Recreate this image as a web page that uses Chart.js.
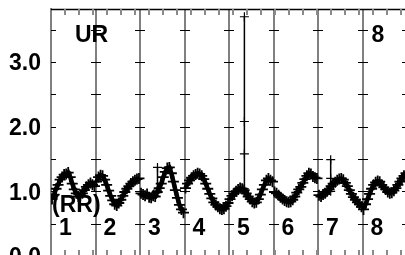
<!DOCTYPE html>
<html>
<head>
<meta charset="utf-8">
<script src="https://cdn.jsdelivr.net/npm/chart.js@4.4.1/dist/chart.umd.min.js"></script>
<style>
  html, body { margin: 0; padding: 0; background: #fff; overflow: hidden; }
  #wrap { position: relative; width: 405px; height: 255px; overflow: hidden; }
  canvas { display: block; }
</style>
</head>
<body>
<div id="wrap"><canvas id="ur-chart" width="420" height="265" style="width:420px;height:265px"></canvas></div>
<script>
// section labels and annotations
const sectionLabels = ['1', '2', '3', '4', '5', '6', '7', '8'];
const titleLabel = 'UR';
const cornerLabel = '8';
const unitLabel = '(RR)';
const yTickValues = [0, 1, 2, 3];
const yMarkValues = [0.5, 1, 1.5, 2, 2.5, 3, 3.5];
const minorStep = 0.315; // top/bottom minor tick spacing, in section units

// one wave per section
const sec1 = [0.88, 0.95, 1.04, 1.10, 1.18, 1.22, 1.26, 1.27, 1.29, 1.22, 1.12, 1.03, 0.97, 0.92, 0.94, 0.97, 1.02, 1.07, 1.10, 1.13, 1.10, 1.08];
const sec2 = [1.15, 1.22, 1.25, 1.24, 1.18, 1.10, 1.01, 0.93, 0.86, 0.80, 0.78, 0.82, 0.87, 0.93, 0.99, 1.04, 1.08, 1.12, 1.15, 1.17, 1.19, 1.20];
const sec3 = [0.97, 0.95, 0.93, 0.96, 0.91, 0.90, 0.93, 0.92, 0.99, 1.05, 1.12, 1.22, 1.30, 1.36, 1.37, 1.28, 1.15, 1.02, 0.90, 0.79, 0.72, 0.67];
const sec4 = [1.05, 1.12, 1.17, 1.21, 1.24, 1.26, 1.28, 1.27, 1.24, 1.19, 1.12, 1.04, 0.96, 0.89, 0.83, 0.79, 0.76, 0.73, 0.72, 0.73, 0.77, 0.82];
const sec5 = [0.88, 0.93, 0.97, 1.00, 1.03, 1.05, 1.04, 1.02, 0.97, 0.92, 0.88, 0.84, 0.82, 0.83, 0.88, 0.95, 1.03, 1.10, 1.17, 1.20, 1.17, 1.15];
const sec6 = [0.99, 0.97, 0.94, 0.91, 0.88, 0.86, 0.84, 0.83, 0.84, 0.87, 0.92, 0.98, 1.03, 1.07, 1.13, 1.19, 1.24, 1.28, 1.27, 1.23, 1.21, 1.20];
const sec7 = [0.94, 0.92, 0.95, 0.97, 1.00, 1.03, 1.08, 1.12, 1.14, 1.17, 1.19, 1.20, 1.18, 1.13, 1.08, 1.02, 0.96, 0.91, 0.87, 0.83, 0.80, 0.76];
const sec8 = [0.72, 0.80, 0.88, 0.96, 1.04, 1.10, 1.14, 1.16, 1.15, 1.10, 1.06, 1.03, 0.99, 0.97, 0.98, 1.01, 1.05, 1.10, 1.15, 1.20, 1.24, 1.28];
const sections = [sec1, sec2, sec3, sec4, sec5, sec6, sec7, sec8];

// artefact spikes
const spikeX = [2.393, 4.346, 6.285];
const spikeY = [
  [0.98, 1.37, 1.02],
  [1.04, 1.58, 2.08, 3.70, 1.00],
  [1.00, 1.49, 1.20]
];

const datasets = [];
sections.forEach((vals, s) => {
  datasets.push({
    data: vals.map((v, i) => ({ x: s + (i + 0.5) / vals.length, y: v })),
    borderWidth: 4.5,
    pointRadius: 5.5,
    pointBorderWidth: 1.8
  });
});
spikeX.forEach((sx, k) => {
  datasets.push({
    data: spikeY[k].map(v => ({ x: sx, y: v })),
    borderWidth: 1.5,
    pointRadius: 4.5,
    pointBorderWidth: 1.2
  });
});

const FONT = 'bold 23px "Liberation Sans", Arial, sans-serif';

const decor = {
  id: 'decor',
  beforeDatasetsDraw(chart) {
    const { ctx, chartArea: a, scales: { x, y } } = chart;
    ctx.save();
    // top border
    ctx.strokeStyle = '#000';
    ctx.lineWidth = 1.5;
    ctx.beginPath();
    ctx.moveTo(a.left, a.top + 0.5);
    ctx.lineTo(a.right, a.top + 0.5);
    ctx.stroke();
    // minor ticks top and bottom
    ctx.strokeStyle = '#8a8a8a';
    ctx.lineWidth = 2;
    for (let k = 1; k * minorStep < 8; k++) {
      const px = Math.round(x.getPixelForValue(k * minorStep));
      ctx.beginPath();
      ctx.moveTo(px, a.top);
      ctx.lineTo(px, a.top + 6);
      ctx.moveTo(px, a.bottom);
      ctx.lineTo(px, a.bottom - 6);
      ctx.stroke();
    }
    // short horizontal marks on section lines
    ctx.strokeStyle = '#000';
    ctx.lineWidth = 1;
    for (let s = 0; s <= 8; s++) {
      const px = Math.round(x.getPixelForValue(s));
      yMarkValues.forEach(v => {
        const py = Math.round(y.getPixelForValue(v)) + 0.5;
        ctx.beginPath();
        ctx.moveTo(s === 0 ? px : px - 5, py);
        ctx.lineTo(px + 5, py);
        ctx.stroke();
      });
    }
    ctx.restore();
  },
  afterDatasetsDraw(chart) {
    const { ctx, scales: { x } } = chart;
    ctx.save();
    ctx.font = FONT;
    ctx.fillStyle = '#000';
    ctx.textAlign = 'left';
    ctx.textBaseline = 'alphabetic';
    sectionLabels.forEach((t, s) => {
      ctx.fillText(t, x.getPixelForValue(s) + 8, 235);
    });
    ctx.fillText(titleLabel, x.getPixelForValue(0) + 24, 42);
    ctx.fillText(cornerLabel, x.getPixelForValue(7) + 9, 42);
    ctx.fillText(unitLabel, x.getPixelForValue(0) + 1, 212);
    ctx.restore();
  }
};

new Chart(document.getElementById('ur-chart'), {
  type: 'scatter',
  data: { datasets: datasets.map(d => Object.assign({
    showLine: true,
    borderColor: '#000',
    pointStyle: 'cross',
    pointBorderColor: '#000',
    tension: 0
  }, d)) },
  options: {
    responsive: false,
    animation: false,
    events: [],
    layout: { padding: { left: 0, top: 9, right: 13, bottom: 9 } },
    plugins: { legend: { display: false }, tooltip: { enabled: false } },
    scales: {
      x: {
        type: 'linear',
        min: 0,
        max: 8,
        afterFit: s => { s.height = 0; s.paddingLeft = 0; s.paddingRight = 0; },
        ticks: { display: false, stepSize: 1 },
        grid: { color: '#808080', lineWidth: 2, drawTicks: false },
        border: { display: false }
      },
      y: {
        type: 'linear',
        min: 0,
        max: 3.82,
        afterFit: s => { s.width = 51; s.paddingTop = 0; s.paddingBottom = 0; },
        afterBuildTicks: s => { s.ticks = yTickValues.map(v => ({ value: v })); },
        ticks: {
          padding: 10,
          labelOffset: 2,
          color: '#000',
          font: { family: '"Liberation Sans", Arial, sans-serif', size: 23, weight: 'bold' },
          callback: v => v.toFixed(1)
        },
        grid: { display: false, drawTicks: false },
        border: { display: true, color: '#808080', width: 2 }
      }
    }
  },
  plugins: [decor]
});
</script>
</body>
</html>
